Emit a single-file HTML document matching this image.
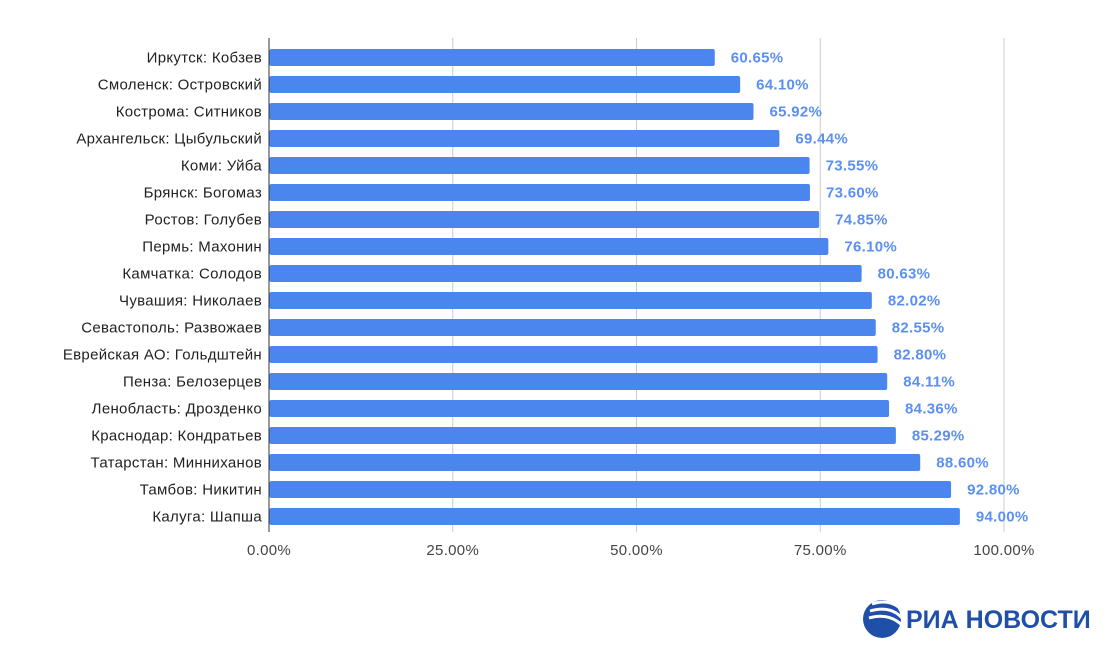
<!DOCTYPE html>
<html><head><meta charset="utf-8"><style>
html,body{margin:0;padding:0;background:#fff;}
svg{display:block;font-family:"Liberation Sans",Arial,sans-serif;}
</style></head><body>
<svg id="chart" width="1110" height="658" viewBox="0 0 1110 658">
<g id="grid"></g><g id="bars"></g><g id="labels"></g>
<g>
  <circle cx="882" cy="619" r="19" fill="#1f4fa8"/>
  <path d="M872 604 q18 -6 30 6" stroke="#fff" stroke-width="3" fill="none"/>
  <path d="M870 611 q20 -6 32 7" stroke="#fff" stroke-width="3" fill="none"/>
  <path d="M869 618 q20 -6 34 8" stroke="#fff" stroke-width="3" fill="none"/>
  <text x="906" y="628" font-size="25" font-weight="bold" fill="#1f4fa8">РИА НОВОСТИ</text>
</g>
</svg>
<script>
const categories=["Иркутск: Кобзев","Смоленск: Островский","Кострома: Ситников","Архангельск: Цыбульский","Коми: Уйба","Брянск: Богомаз","Ростов: Голубев","Пермь: Махонин","Камчатка: Солодов","Чувашия: Николаев","Севастополь: Развожаев","Еврейская АО: Гольдштейн","Пенза: Белозерцев","Ленобласть: Дрозденко","Краснодар: Кондратьев","Татарстан: Минниханов","Тамбов: Никитин","Калуга: Шапша"];
const values=[60.65,64.10,65.92,69.44,73.55,73.60,74.85,76.10,80.63,82.02,82.55,82.80,84.11,84.36,85.29,88.60,92.80,94.00];
const ticks=[0,25,50,75,100];
const NS="http://www.w3.org/2000/svg";
const x0=269,x1=1004,top0=44,step=27,bh=17;
const xs=v=>x0+(x1-x0)*v/100;
const yc=i=>top0+step*i+step/2;
function mk(t,a,p){const e=document.createElementNS(NS,t);for(const k in a)e.setAttribute(k,a[k]);p.appendChild(e);return e;}
const G=document.getElementById('grid'),B=document.getElementById('bars'),L=document.getElementById('labels');
ticks.forEach(t=>{
  const l=mk('line',{x1:xs(t),x2:xs(t),y1:38,y2:532,stroke:t===0?'#333':'#ccc','stroke-width':1},G);
  
  
  const tx=mk('text',{x:xs(t),y:555,'text-anchor':'middle','font-size':15,fill:'#444','letter-spacing':0.3},G);
  tx.textContent=t.toFixed(2)+'%';
  
  
});
categories.forEach((c,i)=>{
  const y=yc(i);
  const r=mk('rect',{x:x0+0.5,y:y-bh/2,width:xs(values[i])-x0-0.5,height:bh,fill:'#4a86ee',rx:2},B);
  
  
  const t=mk('text',{x:262,y:y+5,'text-anchor':'end','font-size':15,fill:'#222','letter-spacing':0.3},L);
  t.textContent=c;
  
  
  const v=mk('text',{x:xs(values[i])+16,y:y+5,'font-size':15,'font-weight':'bold',fill:'#5b8ff0','letter-spacing':0.3},L);
  v.textContent=values[i].toFixed(2)+'%';
  
  
});
</script>
</body></html>
